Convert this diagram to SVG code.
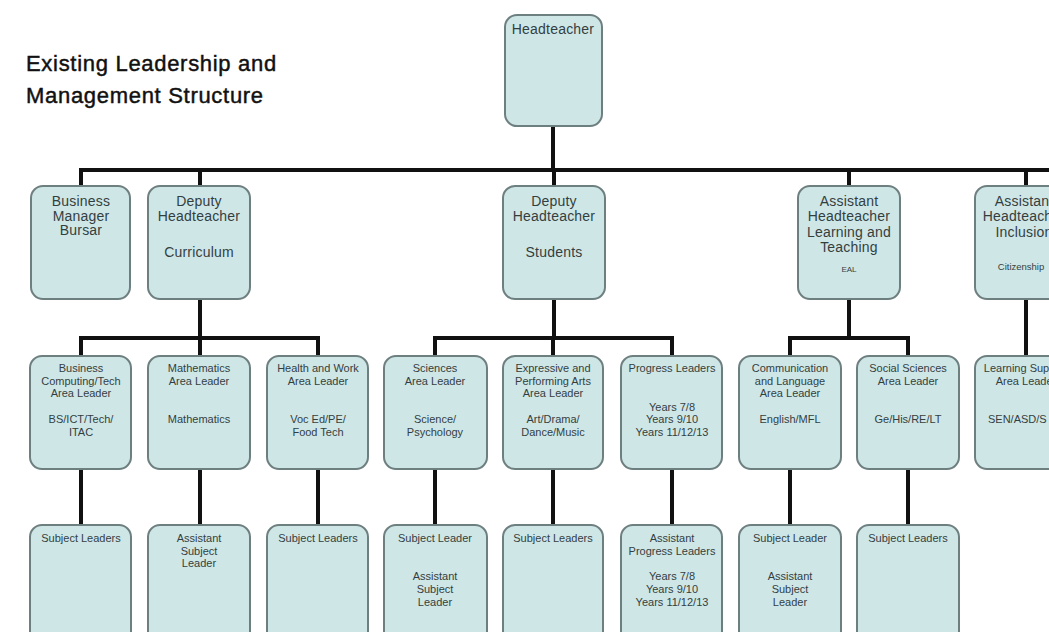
<svg xmlns="http://www.w3.org/2000/svg" width="1049" height="632" viewBox="0 0 1049 632">
<style>
.box{fill:#cfe6e7;stroke:#6e7f80;stroke-width:2}
.conn{stroke:#111;stroke-width:4;fill:none;stroke-linecap:square}
text{font-family:"Liberation Sans",Arial,sans-serif;fill:#333f3f;text-anchor:middle}
.t14{font-size:14px;letter-spacing:0.2px}
.t11{font-size:11px}
.t9{font-size:9.5px}
.t8{font-size:8px}
.title{font-size:22px;fill:#111;text-anchor:start;letter-spacing:0.7px;stroke:#111;stroke-width:0.45}
</style>
<rect width="1049" height="632" fill="#ffffff"/>
<g id="title">
<text class="title" x="26" y="71">Existing Leadership and</text>
<text class="title" x="26" y="103">Management Structure</text>
</g>
<g id="connectors">
<path class="conn" d="M553 126V170M81 170H1049M81 170V186M200 170V186M554 170V186M849 170V186M1026 170V186"/>
<path class="conn" d="M200 299V338M81 338H318M81 338V356M200 338V356M318 338V356"/>
<path class="conn" d="M554 299V338M435 338H672M435 338V356M553 338V356M672 338V356"/>
<path class="conn" d="M849 299V338M790 338H908M790 338V356M908 338V356"/>
<path class="conn" d="M1026 299V356"/>
<path class="conn" d="M81 469V525M200 469V525M318 469V525M435 469V525M553 469V525M672 469V525M790 469V525M908 469V525"/>
</g>
<g id="headteacher">
<rect class="box" x="505" y="15" width="97" height="111" rx="12"/>
<text class="t14" x="553" y="34">Headteacher</text>
</g>
<g id="business-manager">
<rect class="box" x="31" y="186" width="99" height="113" rx="12"/>
<text class="t14" x="81" y="206">Business</text>
<text class="t14" x="81" y="221">Manager</text>
<text class="t14" x="81" y="235">Bursar</text>
</g>
<g id="deputy-curriculum">
<rect class="box" x="148" y="186" width="102" height="113" rx="12"/>
<text class="t14" x="199" y="206">Deputy</text>
<text class="t14" x="199" y="221">Headteacher</text>
<text class="t14" x="199" y="257">Curriculum</text>
</g>
<g id="deputy-students">
<rect class="box" x="503" y="186" width="102" height="113" rx="12"/>
<text class="t14" x="554" y="206">Deputy</text>
<text class="t14" x="554" y="221">Headteacher</text>
<text class="t14" x="554" y="257">Students</text>
</g>
<g id="assistant-learning-teaching">
<rect class="box" x="798" y="186" width="102" height="113" rx="12"/>
<text class="t14" x="849" y="206">Assistant</text>
<text class="t14" x="849" y="221">Headteacher</text>
<text class="t14" x="849" y="237">Learning and</text>
<text class="t14" x="849" y="252">Teaching</text>
<text class="t8" x="849" y="272">EAL</text>
</g>
<g id="assistant-inclusion">
<rect class="box" x="975" y="186" width="103" height="113" rx="12"/>
<text class="t14" x="1024" y="206">Assistant</text>
<text class="t14" x="1024" y="221">Headteacher</text>
<text class="t14" x="1024" y="237">Inclusion</text>
<text class="t9" x="1021" y="270">Citizenship</text>
</g>
<g id="business-computing">
<rect class="box" x="30" y="356" width="101" height="113" rx="12"/>
<text class="t11" x="81" y="372">Business</text>
<text class="t11" x="81" y="385">Computing/Tech</text>
<text class="t11" x="81" y="397">Area Leader</text>
<text class="t11" x="81" y="423">BS/ICT/Tech/</text>
<text class="t11" x="81" y="436">ITAC</text>
</g>
<g id="mathematics">
<rect class="box" x="148" y="356" width="102" height="113" rx="12"/>
<text class="t11" x="199" y="372">Mathematics</text>
<text class="t11" x="199" y="385">Area Leader</text>
<text class="t11" x="199" y="423">Mathematics</text>
</g>
<g id="health-work">
<rect class="box" x="267" y="356" width="101" height="113" rx="12"/>
<text class="t11" x="318" y="372">Health and Work</text>
<text class="t11" x="318" y="385">Area Leader</text>
<text class="t11" x="318" y="423">Voc Ed/PE/</text>
<text class="t11" x="318" y="436">Food Tech</text>
</g>
<g id="sciences">
<rect class="box" x="384" y="356" width="103" height="113" rx="12"/>
<text class="t11" x="435" y="372">Sciences</text>
<text class="t11" x="435" y="385">Area Leader</text>
<text class="t11" x="435" y="423">Science/</text>
<text class="t11" x="435" y="436">Psychology</text>
</g>
<g id="expressive-arts">
<rect class="box" x="503" y="356" width="100" height="113" rx="12"/>
<text class="t11" x="553" y="372">Expressive and</text>
<text class="t11" x="553" y="385">Performing Arts</text>
<text class="t11" x="553" y="397">Area Leader</text>
<text class="t11" x="553" y="423">Art/Drama/</text>
<text class="t11" x="553" y="436">Dance/Music</text>
</g>
<g id="progress-leaders">
<rect class="box" x="621" y="356" width="101" height="113" rx="12"/>
<text class="t11" x="672" y="372">Progress Leaders</text>
<text class="t11" x="672" y="411">Years 7/8</text>
<text class="t11" x="672" y="423">Years 9/10</text>
<text class="t11" x="672" y="436">Years 11/12/13</text>
</g>
<g id="communication-language">
<rect class="box" x="739" y="356" width="102" height="113" rx="12"/>
<text class="t11" x="790" y="372">Communication</text>
<text class="t11" x="790" y="385">and Language</text>
<text class="t11" x="790" y="397">Area Leader</text>
<text class="t11" x="790" y="423">English/MFL</text>
</g>
<g id="social-sciences">
<rect class="box" x="857" y="356" width="102" height="113" rx="12"/>
<text class="t11" x="908" y="372">Social Sciences</text>
<text class="t11" x="908" y="385">Area Leader</text>
<text class="t11" x="908" y="423">Ge/His/RE/LT</text>
</g>
<g id="learning-support">
<rect class="box" x="975" y="356" width="103" height="113" rx="12"/>
<text class="t11" x="1026" y="372">Learning Support</text>
<text class="t11" x="1026" y="385">Area Leader</text>
<text class="t11" x="988" y="423" style="text-anchor:start">SEN/ASD/S</text>
</g>
<g id="bc-subject-leaders">
<rect class="box" x="30" y="525" width="101" height="120" rx="12"/>
<text class="t11" x="81" y="542">Subject Leaders</text>
</g>
<g id="math-assistant">
<rect class="box" x="148" y="525" width="102" height="120" rx="12"/>
<text class="t11" x="199" y="542">Assistant</text>
<text class="t11" x="199" y="555">Subject</text>
<text class="t11" x="199" y="567">Leader</text>
</g>
<g id="hw-subject-leaders">
<rect class="box" x="267" y="525" width="101" height="120" rx="12"/>
<text class="t11" x="318" y="542">Subject Leaders</text>
</g>
<g id="sci-subject-leader">
<rect class="box" x="384" y="525" width="103" height="120" rx="12"/>
<text class="t11" x="435" y="542">Subject Leader</text>
<text class="t11" x="435" y="580">Assistant</text>
<text class="t11" x="435" y="593">Subject</text>
<text class="t11" x="435" y="606">Leader</text>
</g>
<g id="ea-subject-leaders">
<rect class="box" x="503" y="525" width="100" height="120" rx="12"/>
<text class="t11" x="553" y="542">Subject Leaders</text>
</g>
<g id="assistant-progress">
<rect class="box" x="621" y="525" width="101" height="120" rx="12"/>
<text class="t11" x="672" y="542">Assistant</text>
<text class="t11" x="672" y="555">Progress Leaders</text>
<text class="t11" x="672" y="580">Years 7/8</text>
<text class="t11" x="672" y="593">Years 9/10</text>
<text class="t11" x="672" y="606">Years 11/12/13</text>
</g>
<g id="cl-subject-leader">
<rect class="box" x="739" y="525" width="102" height="120" rx="12"/>
<text class="t11" x="790" y="542">Subject Leader</text>
<text class="t11" x="790" y="580">Assistant</text>
<text class="t11" x="790" y="593">Subject</text>
<text class="t11" x="790" y="606">Leader</text>
</g>
<g id="ss-subject-leaders">
<rect class="box" x="857" y="525" width="102" height="120" rx="12"/>
<text class="t11" x="908" y="542">Subject Leaders</text>
</g>
</svg>
